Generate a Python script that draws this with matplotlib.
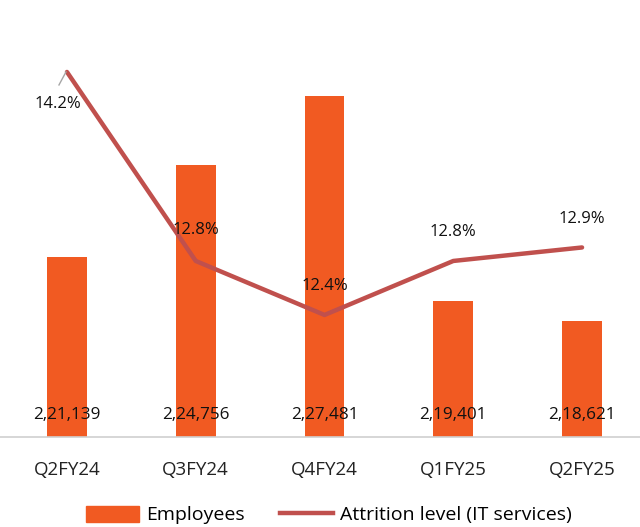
import matplotlib.pyplot as plt
from matplotlib.lines import Line2D
from matplotlib.patches import Patch

quarters = ["Q2FY24", "Q3FY24", "Q4FY24", "Q1FY25", "Q2FY25"]
employees = [221139, 224756, 227481, 219401, 218621]
emp_labels = ["2,21,139", "2,24,756", "2,27,481", "2,19,401", "2,18,621"]
attrition = [14.2, 12.8, 12.4, 12.8, 12.9]

plt.rcParams['font.family'] = ['Open Sans', 'DejaVu Sans']

fig = plt.figure(figsize=(6.4, 5.27), dpi=100)
ax = fig.add_axes([0, 90/527, 1, 417/527])
ax2 = ax.twinx()

x = list(range(len(quarters)))
ax.bar(x, employees, width=0.31, color="#F15A22", zorder=2)
ax.set_ylim(214054, 214054 + 417/0.0254)
ax.set_xlim(-0.52, 4.45)

ax2.plot(x, attrition, color="#C0504D", lw=3.2, solid_capstyle='round', zorder=3)
ax2.set_ylim(11.496, 11.496 + 417/135)

# employee count labels near the bottom of the bars
for xi, lab in zip(x, emp_labels):
    ax.text(xi, 214054 + 22/0.0254, lab, ha='center', va='center', fontsize=12.3, color='#111111')

# attrition labels (px offsets)
offsets = [(-9, -32), (0, 31), (0, 29), (0, 29), (0, 28)]
for xi, v, (dx, dy) in zip(x, attrition, offsets):
    ax2.text(xi + dx/129, v + dy/135, f"{v}%", ha='center', va='center',
             fontsize=12, color='#111111', zorder=4)
# leader line for first label
ax2.plot([-8/129, -1/129], [attrition[0] - 13/135, attrition[0]], color='#A6A6A6', lw=1, zorder=4)

for a in (ax, ax2):
    for s in a.spines.values():
        s.set_visible(False)
    a.set_yticks([])
ax.spines['bottom'].set_visible(True)
ax.spines['bottom'].set_color('#D0D0D0')
ax.spines['bottom'].set_linewidth(1.2)
ax.set_xticks(x)
ax.set_xticklabels(quarters, fontsize=13.5, color='#222222')
ax.tick_params(axis='x', length=0, pad=17)

handles = [Patch(color="#F15A22", label="Employees"),
           Line2D([0], [0], color="#C0504D", lw=3.2, label="Attrition level (IT services)")]
fig.legend(handles=handles, loc='center', bbox_to_anchor=(0.514, 12/527), ncol=2, frameon=False,
           fontsize=14, handlelength=2.75, handleheight=0.9, columnspacing=1.8, handletextpad=0.35)

fig.savefig("out.png", dpi=100)
